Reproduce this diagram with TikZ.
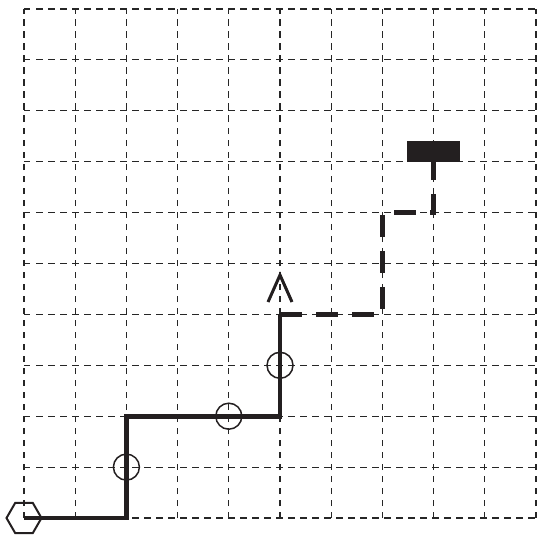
\documentclass[tikz,border=0pt]{standalone}
\usetikzlibrary{shapes.geometric}
\definecolor{ink}{HTML}{231F20}
\tikzset{
  gridline/.style={draw=black!85, line width=1.1pt, dash pattern=on 6.5pt off 5.5pt},
  solidpath/.style={draw=ink, line width=4.6pt, line join=miter},
  dashpath/.style={draw=ink, line width=5pt, dash pattern=on 22pt off 14pt},
  hexmark/.style={draw=ink, line width=2pt, regular polygon, regular polygon sides=6, minimum size=35pt, inner sep=0pt},
  ringmark/.style={draw=ink, line width=1.5pt, circle, minimum size=26pt, inner sep=0pt},
  chevron/.style={draw=ink, line width=3pt},
  goalbox/.style={fill=ink, draw=none, minimum width=53pt, minimum height=21pt, inner sep=0pt, anchor=south}
}
\begin{document}
\begin{tikzpicture}[x=51.2pt, y=50.9pt]
\useasboundingbox (-0.46875,-0.3536) rectangle (10.0195,10.1768);
% grid
\foreach \i in {0,...,10} {
  \draw[gridline] (\i,0) -- (\i,10);
  \draw[gridline] (0,\i) -- (10,\i);
}
% named points
\coordinate (c1) at (2,0);
\coordinate (c2) at (2,2);
\coordinate (c3) at (5,2);
\coordinate (c4) at (5,4);
\coordinate (d1) at (7,4);
\coordinate (d2) at (7,6);
\coordinate (d3) at (8,6);
\node[goalbox] (goal) at (8,7) {};
\node[hexmark] (start) at (0,0) {};
% route
\draw[solidpath] (start.center) -- (c1) -- (c2) -- (c3) -- (c4);
\draw[dashpath] (c4) -- (d1) -- (d2) -- (d3) -- (goal.south);
% markers
\node[ringmark] (r1) at (2,1) {};
\node[ringmark] (r2) at (4,2) {};
\node[ringmark] (r3) at (5,3) {};
\coordinate (tip) at (5,4.774);
\draw[chevron] ([shift={(-12pt,-27pt)}]tip) -- (tip) -- ([shift={(12pt,-27pt)}]tip);
\end{tikzpicture}
\end{document}
